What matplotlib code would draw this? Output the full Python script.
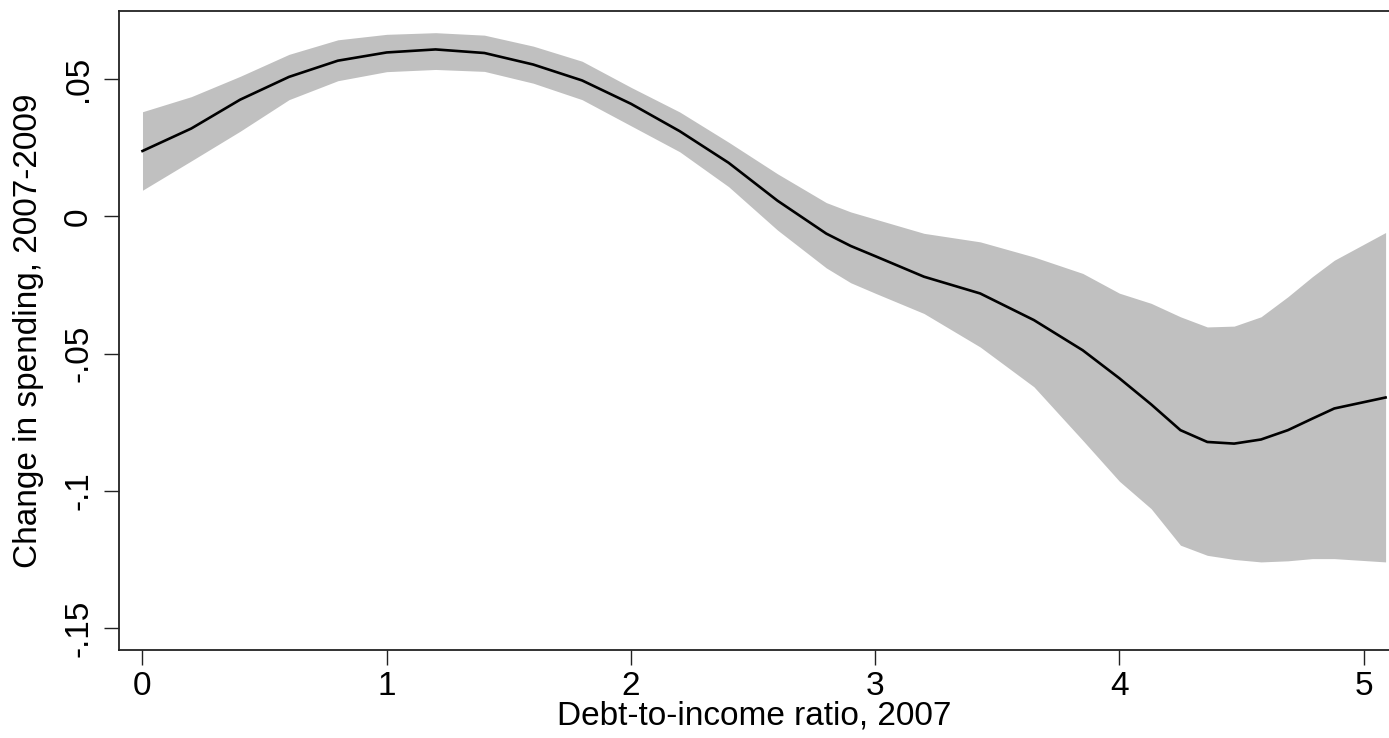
import matplotlib
matplotlib.use("Agg")
import matplotlib.pyplot as plt

# local polynomial fit of spending change on 2007 debt-to-income, with 95% CI
dti = [0.0, 0.2, 0.4, 0.6, 0.8, 1.0, 1.2, 1.4, 1.6, 1.8, 2.0, 2.2, 2.4, 2.6,
       2.8, 2.9, 3.0, 3.2, 3.43, 3.65, 3.85, 4.0, 4.13, 4.25, 4.36, 4.47,
       4.58, 4.69, 4.79, 4.88, 5.09]
fit = [0.0238, 0.032, 0.0425, 0.0508, 0.0567, 0.0597, 0.0608, 0.0595, 0.0553,
       0.0495, 0.041, 0.031, 0.0195, 0.0057, -0.0063, -0.0108, -0.0145, -0.022,
       -0.0281, -0.0378, -0.0488, -0.059, -0.0685, -0.0779, -0.0822, -0.0828,
       -0.0813, -0.0779, -0.0737, -0.070, -0.066]
ci_hi = [0.0381, 0.0436, 0.051, 0.059, 0.0643, 0.0663, 0.0669, 0.066, 0.062,
         0.0565, 0.047, 0.038, 0.027, 0.0155, 0.005, 0.0016, -0.001, -0.0062,
         -0.0093, -0.0148, -0.0208, -0.028, -0.0317, -0.0366, -0.0403, -0.040,
         -0.0366, -0.0293, -0.022, -0.016, -0.0059]
ci_lo = [0.0095, 0.0202, 0.031, 0.0425, 0.0494, 0.0527, 0.0535, 0.0528, 0.0485,
         0.0425, 0.033, 0.0235, 0.0108, -0.005, -0.0188, -0.0242, -0.028, -0.0354,
         -0.0476, -0.0621, -0.0816, -0.0965, -0.1065, -0.1198, -0.1235, -0.125,
         -0.1259, -0.1255, -0.1247, -0.1247, -0.1259]

xticks = [0, 1, 2, 3, 4, 5]
yticks = [0.05, 0, -0.05, -0.1, -0.15]
ytick_labels = [".05", "0", "-.05", "-.1", "-.15"]

plt.rcParams["font.family"] = ["Liberation Sans", "DejaVu Sans"]

fig = plt.figure(figsize=(13.89, 7.38), dpi=100)
ax = fig.add_axes([0.0857, 0.1192, 0.9143, 0.8659])

ax.fill_between(dti, ci_lo, ci_hi, color="#c0c0c0", linewidth=0)
ax.plot(dti, fit, color="black", linewidth=1.9)

ax.set_xlim(-0.096, 5.104)
ax.set_ylim(-0.158, 0.0748)

ax.set_xticks(xticks)
ax.set_xticklabels([str(t) for t in xticks])
ax.set_yticks(yticks)
ax.set_yticklabels(ytick_labels, rotation=90, va="center")

ax.tick_params(axis="both", direction="out", length=11, width=1.0,
               labelsize=24, color="#222222")
ax.tick_params(axis="x", pad=4)
ax.tick_params(axis="y", pad=7)

for side in ["left", "bottom", "top"]:
    ax.spines[side].set_linewidth(1.3)
    ax.spines[side].set_color("#222222")
ax.spines["right"].set_visible(False)

ax.set_xlabel("Debt-to-income ratio, 2007", fontsize=24, labelpad=-1)
ax.set_ylabel("Change in spending, 2007-2009", fontsize=24, labelpad=14)

fig.savefig("out.png", dpi=100)
